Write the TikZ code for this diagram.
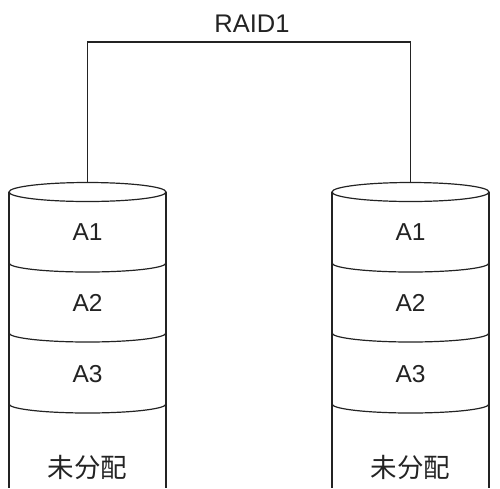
\documentclass[tikz,border=0pt]{standalone}
\usepackage{fontspec}
\setmainfont{Liberation Sans}
\newfontfamily\cjk{Noto Sans CJK SC}
\definecolor{ln}{RGB}{35,35,35}
\begin{document}
\begin{tikzpicture}[x=1pt,y=-1pt,
  edge/.style={draw=ln,line width=1.2pt},
  lbl/.style={font=\fontsize{24.5}{28}\selectfont,text=ln,inner sep=0pt},
  cjklbl/.style={font=\cjk\fontsize{26.5}{30}\selectfont,text=ln,inner sep=0pt}]
\useasboundingbox[fill=white] (0,0) rectangle (500,488);
% cylinders
\foreach \c/\n in {87.5/L, 410.5/R}{
  \fill[white] (\c-78.5,192) rectangle (\c+78.5,488);
  \draw[edge] (\c-78.5,192) -- (\c-78.5,488);
  \draw[edge] (\c+78.5,192) -- (\c+78.5,488);
  \draw[edge,fill=white] (\c,192) ellipse [x radius=78.5pt, y radius=9.5pt];
  \foreach \y in {263,333,404}{
    \draw[edge] (\c-78.5,\y) arc[start angle=180,end angle=360,x radius=78.5pt,y radius=9pt];
  }
}
\node[lbl] (a1L) at (87.5,232) {A1};
\node[lbl] (a2L) at (87.5,303) {A2};
\node[lbl] (a3L) at (87.5,374) {A3};
\node[cjklbl] (uL) at (87.5,467) {未分配};
\node[lbl] (a1R) at (410.5,232) {A1};
\node[lbl] (a2R) at (410.5,303) {A2};
\node[lbl] (a3R) at (410.5,374) {A3};
\node[cjklbl] (uR) at (410.5,467) {未分配};
\coordinate (topL) at (87.5,182.5);
\coordinate (topR) at (410.5,182.5);
\coordinate (bar) at (250,42);
\node[lbl,anchor=base,font=\fontsize{25.5}{28}\selectfont] (raid) at (252,32) {RAID1};
\draw[edge] (topL) -- (topL |- bar) -- (topR |- bar) -- (topR);
\end{tikzpicture}
\end{document}
